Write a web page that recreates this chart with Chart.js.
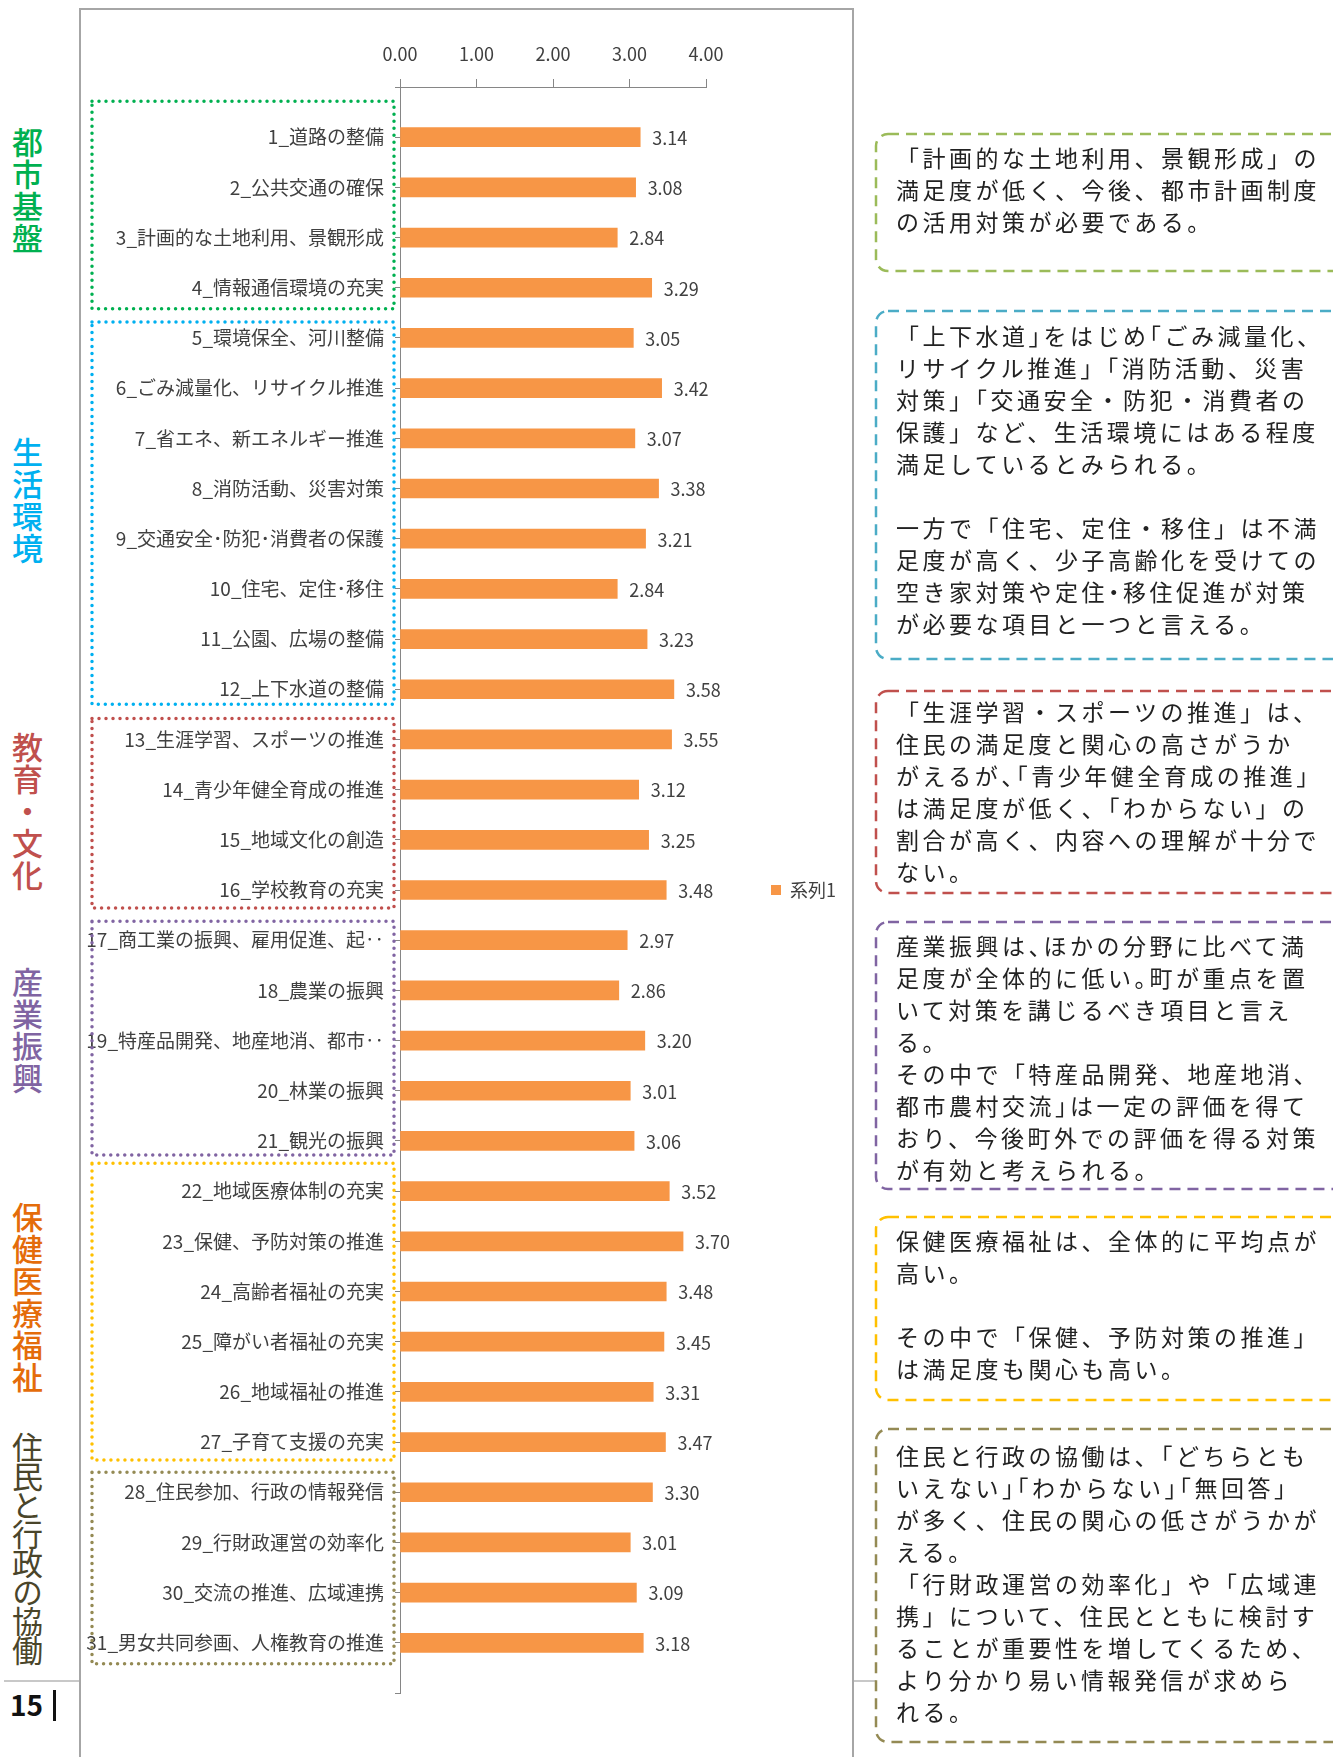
<!DOCTYPE html>
<html lang="ja">
<head>
<meta charset="utf-8">
<script src="https://cdn.jsdelivr.net/npm/chart.js@4.4.1/dist/chart.umd.min.js"></script>
<style>
  html, body { margin: 0; padding: 0; background: #fff; }
  body { width: 1333px; height: 1757px; position: relative; overflow: hidden; font-family: "Noto Sans CJK JP", sans-serif; }
  #frame { position: absolute; left: 79px; top: 8px; width: 771px; height: 1800px; border: 2px solid #a6a6a6; }
  #chart { position: absolute; left: 0; top: 0; }
  .group { position: absolute; left: 11px; width: 32px; writing-mode: vertical-rl; font-size: 31px; font-weight: 500; line-height: 32px; letter-spacing: 1px; }
  .note { position: absolute; left: 896px; font-size: 23px; line-height: 32px; letter-spacing: 3.5px; color: #222; white-space: nowrap; }
  .h { font-feature-settings: "halt"; }
  #boxes { position: absolute; left: 0; top: 0; }
</style>
</head>
<body>

<div id="frame"><canvas id="chart" width="771" height="1747"></canvas></div>

<div class="group" style="top:127px;color:#00b050">都市基盤</div>
<div class="group" style="top:437px;color:#00b0f0">生活環境</div>
<div class="group" style="top:732px;color:#c0504d">教育・文化</div>
<div class="group" style="top:967px;color:#8064a2">産業振興</div>
<div class="group" style="top:1202px;color:#e46c0a">保健医療福祉</div>
<div class="group" style="top:1432px;color:#4a452a;font-weight:400;letter-spacing:-2px">住民と行政の協働</div>

<div style="position:absolute;left:4px;top:1680px;width:75px;height:2px;background:#c8c8c8"></div>
<div style="position:absolute;left:854px;top:1680px;width:22px;height:2px;background:#c8c8c8"></div>
<div style="position:absolute;left:10px;top:1686px;font-size:28px;font-weight:700;line-height:36px;color:#111">15</div>
<div style="position:absolute;left:53px;top:1690px;width:3px;height:31px;background:#111"></div>

<svg id="boxes" width="1333" height="1757"></svg>

<div class="note" style="top:141px">「計画的な土地利用、景観形成」の<br>満足度が低く、今後、都市計画制度<br>の活用対策が必要である。</div>
<div class="note" style="top:319px">「上下水道<span class="h">」</span>をはじめ<span class="h">「</span>ごみ減量化、<br>リサイクル推進」「消防活動、災害<br>対策」「交通安全・防犯・消費者の<br>保護」など、生活環境にはある程度<br>満足しているとみられる。<br><br>一方で「住宅、定住・移住」は不満<br>足度が高く、少子高齢化を受けての<br>空き家対策や定住<span class="h">・</span>移住促進が対策<br>が必要な項目と一つと言える。</div>
<div class="note" style="top:695px">「生涯学習・スポーツの推進」は、<br>住民の満足度と関心の高さがうか<br>がえるが<span class="h">、「</span>青少年健全育成の推進」<br>は満足度が低く、「わからない」の<br>割合が高く、内容への理解が十分で<br>ない。</div>
<div class="note" style="top:929px">産業振興は<span class="h">、</span>ほかの分野に比べて満<br>足度が全体的に低い<span class="h">。</span>町が重点を置<br>いて対策を講じるべき項目と言え<br>る。<br>その中で「特産品開発、地産地消、<br>都市農村交流<span class="h">」</span>は一定の評価を得て<br>おり、今後町外での評価を得る対策<br>が有効と考えられる。</div>
<div class="note" style="top:1224px">保健医療福祉は、全体的に平均点が<br>高い。<br><br>その中で「保健、予防対策の推進」<br>は満足度も関心も高い。</div>
<div class="note" style="top:1439px">住民と行政の協働は、「どちらとも<br>いえない<span class="h">」「</span>わからない<span class="h">」「</span>無回答」<br>が多く、住民の関心の低さがうかが<br>える。<br>「行財政運営の効率化」や「広域連<br>携」について、住民とともに検討す<br>ることが重要性を増してくるため、<br>より分かり易い情報発信が求めら<br>れる。</div>

<script>
// 満足度 (平均点)
const categories = [
  '1_道路の整備', '2_公共交通の確保', '3_計画的な土地利用、景観形成', '4_情報通信環境の充実',
  '5_環境保全、河川整備', '6_ごみ減量化、リサイクル推進', '7_省エネ、新エネルギー推進', '8_消防活動、災害対策',
  '9_交通安全･防犯･消費者の保護', '10_住宅、定住･移住', '11_公園、広場の整備', '12_上下水道の整備',
  '13_生涯学習、スポーツの推進', '14_青少年健全育成の推進', '15_地域文化の創造', '16_学校教育の充実',
  '17_商工業の振興、雇用促進、起‥', '18_農業の振興', '19_特産品開発、地産地消、都市‥', '20_林業の振興', '21_観光の振興',
  '22_地域医療体制の充実', '23_保健、予防対策の推進', '24_高齢者福祉の充実', '25_障がい者福祉の充実', '26_地域福祉の推進', '27_子育て支援の充実',
  '28_住民参加、行政の情報発信', '29_行財政運営の効率化', '30_交流の推進、広域連携', '31_男女共同参画、人権教育の推進'
];
const scores = [
  3.14, 3.08, 2.84, 3.29,
  3.05, 3.42, 3.07, 3.38, 3.21, 2.84, 3.23, 3.58,
  3.55, 3.12, 3.25, 3.48,
  2.97, 2.86, 3.20, 3.01, 3.06,
  3.52, 3.70, 3.48, 3.45, 3.31, 3.47,
  3.30, 3.01, 3.09, 3.18
];
const seriesName = '系列1';
const xTicks = [0, 1, 2, 3, 4];

// 分野ごとの項目数
const groupSizes = [4, 8, 4, 5, 6, 4];
const groupColors = ['#00b050', '#00b0f0', '#c0504d', '#8064a2', '#ffc000', '#948a54'];

// dotted frame offsets (px) above first / below last item of each group
const groupPadTop = [36, 16, 21, 19, 28, 20];
const groupPadBottom = [21, 15, 18, 14, 18, 21];

// note boxes on the right
const noteBoxes = [
  { top: 134, bottom: 271, color: '#9bbb59' },
  { top: 311, bottom: 659, color: '#4bacc6' },
  { top: 691, bottom: 893, color: '#c0504d' },
  { top: 922, bottom: 1189, color: '#8064a2' },
  { top: 1217, bottom: 1400, color: '#ffc000' },
  { top: 1429, bottom: 1742, color: '#948a54' }
];

const svg = document.getElementById('boxes');
noteBoxes.forEach(b => {
  const r = document.createElementNS('http://www.w3.org/2000/svg', 'rect');
  r.setAttribute('x', 876);
  r.setAttribute('y', b.top);
  r.setAttribute('width', 480);
  r.setAttribute('height', b.bottom - b.top);
  r.setAttribute('rx', 12);
  r.setAttribute('fill', 'none');
  r.setAttribute('stroke', b.color);
  r.setAttribute('stroke-width', 2.5);
  r.setAttribute('stroke-dasharray', '11 7');
  svg.appendChild(r);
});

// blank slot at both ends, so the axis runs one step past first / last item
const labels = [''].concat(categories, ['']);
const values = [null].concat(scores, [null]);

const valueLabels = {
  id: 'valueLabels',
  afterDatasetsDraw(chart) {
    const ctx = chart.ctx;
    const meta = chart.getDatasetMeta(0);
    ctx.save();
    ctx.font = '18px "Noto Sans CJK JP"';
    ctx.fillStyle = '#404040';
    ctx.textBaseline = 'middle';
    ctx.textAlign = 'left';
    meta.data.forEach((bar, i) => {
      const v = values[i];
      if (v == null) return;
      ctx.fillText(v.toFixed(2), bar.x + 12, bar.y + 1);
    });
    ctx.restore();
  }
};

const groupFrames = {
  id: 'groupFrames',
  afterDraw(chart) {
    const y = chart.scales.y;
    const ctx = chart.ctx;
    ctx.save();
    ctx.lineWidth = 3.5;
    ctx.lineCap = 'round';
    ctx.setLineDash([0, 7]);
    let start = 1;
    groupSizes.forEach((n, g) => {
      const top = y.getPixelForValue(start) - groupPadTop[g];
      const bottom = y.getPixelForValue(start + n - 1) + groupPadBottom[g];
      ctx.strokeStyle = groupColors[g];
      ctx.strokeRect(11, top, 302, bottom - top);
      start += n;
    });
    ctx.restore();
  }
};

Chart.defaults.font.family = '"Noto Sans CJK JP", sans-serif';
Chart.defaults.color = '#404040';

new Chart(document.getElementById('chart'), {
  type: 'bar',
  data: {
    labels: labels,
    datasets: [{
      label: seriesName,
      data: values,
      backgroundColor: '#f79646',
      borderWidth: 0,
      barThickness: 19
    }]
  },
  options: {
    indexAxis: 'y',
    responsive: false,
    animation: false,
    devicePixelRatio: 1,
    layout: { padding: { top: 0, left: 0, right: 6, bottom: 64 } },
    scales: {
      x: {
        position: 'top',
        min: 0,
        max: 4,
        afterBuildTicks: s => { s.ticks = xTicks.map(v => ({ value: v })); },
        afterFit: s => { s.height = 77; },
        ticks: { font: { size: 18 }, color: '#404040', padding: 14, callback: v => v.toFixed(2) },
        grid: { drawOnChartArea: false, drawTicks: true, tickLength: 8, color: '#868686' },
        border: { color: '#868686' }
      },
      y: {
        offset: false,
        afterFit: s => { s.width = 319; },
        ticks: { font: { size: 19 }, color: '#404040', padding: 11, autoSkip: false },
        grid: { offset: false, drawOnChartArea: false, drawTicks: true, tickLength: 5, color: '#868686' },
        border: { color: '#868686' }
      }
    },
    plugins: {
      legend: {
        position: 'right',
        fullSize: false,
        labels: { boxWidth: 10, boxHeight: 10, padding: 65, font: { size: 18 }, color: '#404040' }
      },
      tooltip: { enabled: false }
    }
  },
  plugins: [valueLabels, groupFrames]
});
</script>
</body>
</html>
